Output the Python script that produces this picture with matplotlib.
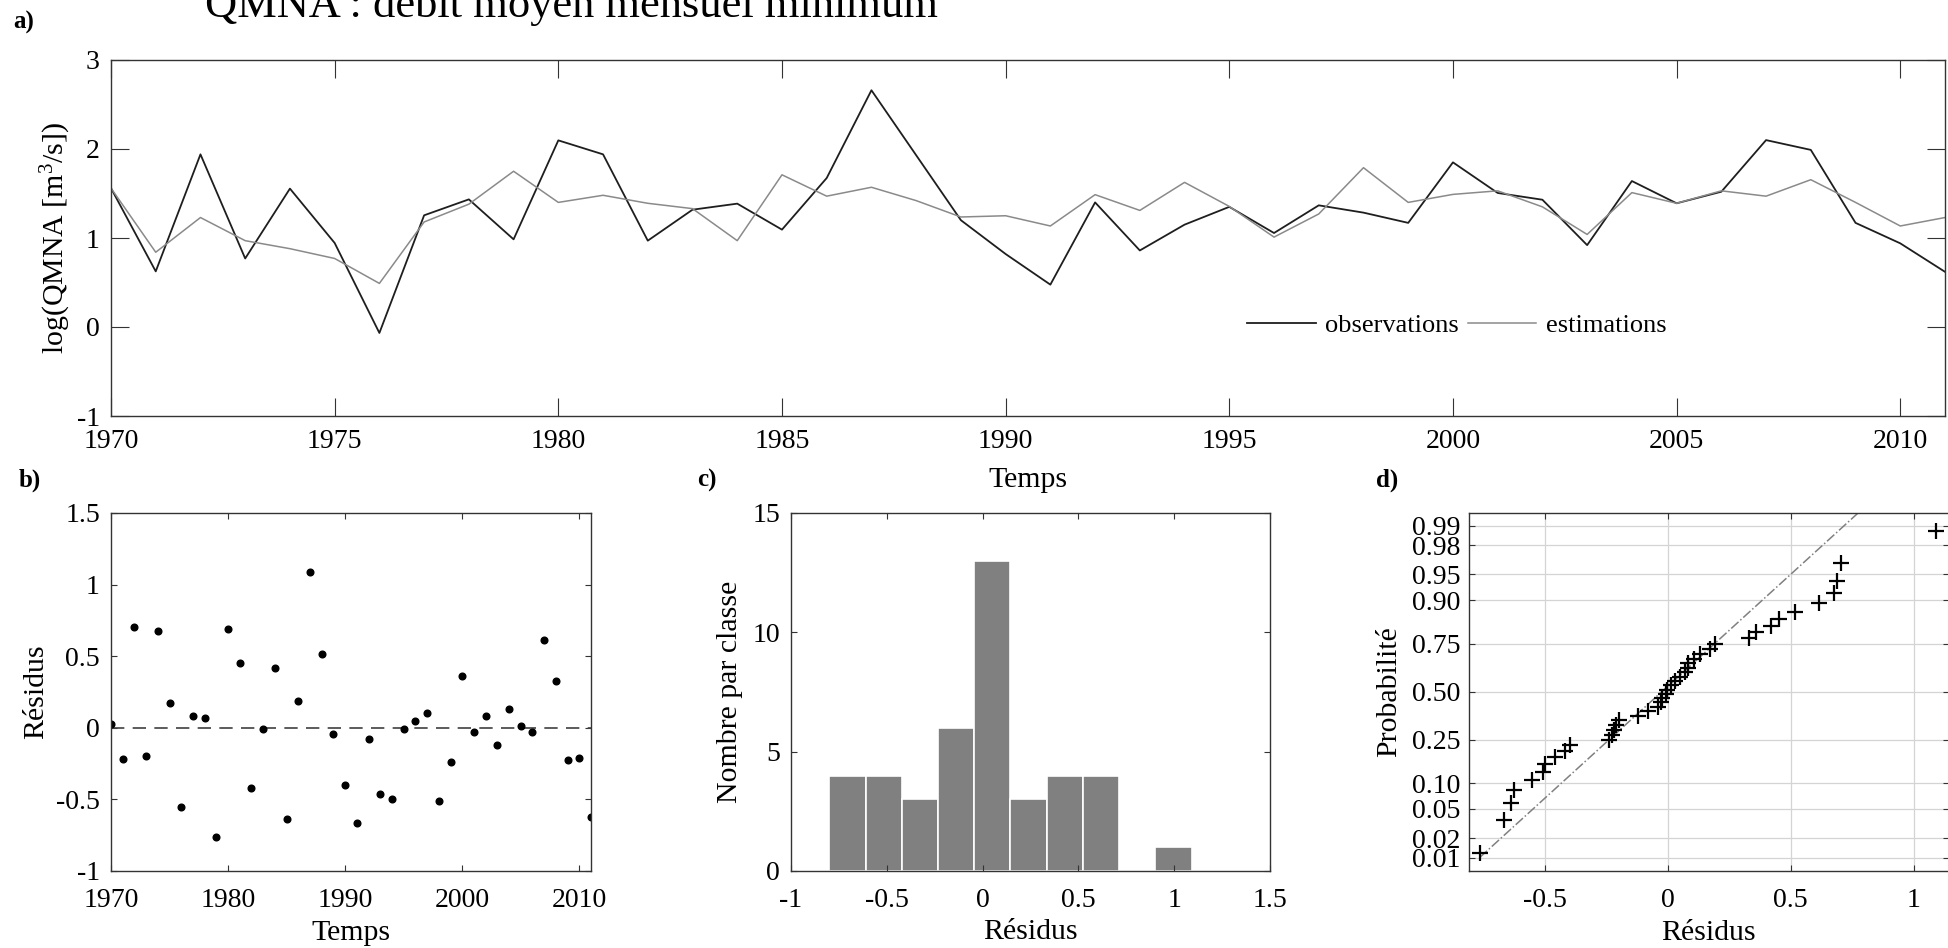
import numpy as np
import matplotlib
matplotlib.use('Agg')
import matplotlib.pyplot as plt
from matplotlib.ticker import FormatStrFormatter
from statistics import NormalDist

plt.rcParams['font.family'] = ['Liberation Serif', 'DejaVu Serif']
plt.rcParams['mathtext.default'] = 'regular'
plt.rcParams['axes.unicode_minus'] = False
plt.rcParams['font.size'] = 20
plt.rcParams['axes.labelsize'] = 21.5

# data
annees = list(range(1970, 2012))
observations = [1.56, 0.625, 1.94, 0.77, 1.555, 0.944, -0.067, 1.255, 1.434, 0.985,
                2.097, 1.94, 0.97, 1.318, 1.386, 1.094, 1.674, 2.66, 1.93, 1.20,
                0.82, 0.476, 1.40, 0.86, 1.15, 1.35, 1.056, 1.367, 1.285, 1.17,
                1.85, 1.506, 1.43, 0.92, 1.64, 1.39, 1.52, 2.10, 1.99, 1.17,
                0.94, 0.62]
estimations = [1.56, 0.84, 1.23, 0.97, 0.88, 0.77, 0.49, 1.18, 1.38, 1.75,
               1.40, 1.48, 1.39, 1.33, 0.97, 1.71, 1.47, 1.57, 1.42, 1.236,
               1.25, 1.135, 1.487, 1.31, 1.625, 1.355, 1.01, 1.27, 1.79, 1.40,
               1.49, 1.53, 1.35, 1.04, 1.51, 1.39, 1.53, 1.47, 1.655, 1.40,
               1.135, 1.23]
residus = [0.03, -0.22, 0.705, -0.20, 0.675, 0.17, -0.555, 0.08, 0.07, -0.766,
           0.69, 0.45, -0.42, -0.007, 0.42, -0.64, 0.19, 1.09, 0.518, -0.04,
           -0.40, -0.666, -0.08, -0.46, -0.50, -0.005, 0.05, 0.105, -0.51, -0.24,
           0.36, -0.03, 0.08, -0.12, 0.13, 0.014, -0.026, 0.615, 0.328, -0.228,
           -0.21, -0.626]
classes = [-0.80, -0.611, -0.422, -0.233, -0.044, 0.145, 0.334, 0.523, 0.712, 0.901, 1.095]
probas = [0.01, 0.02, 0.05, 0.10, 0.25, 0.50, 0.75, 0.90, 0.95, 0.98, 0.99]

W, H = 1948, 948
fig = plt.figure(figsize=(W / 100, H / 100), dpi=100)


def axes_px(l, t, r, b):
    return fig.add_axes([l / W, 1 - b / H, (r - l) / W, (b - t) / H])


def style(ax, ticklen, xpad, ypad):
    ax.tick_params(direction='in', top=True, right=True, length=ticklen, width=0.8,
                   color='#333333', labelsize=20)
    ax.tick_params(axis='x', pad=xpad)
    ax.tick_params(axis='y', pad=ypad)
    for s in ax.spines.values():
        s.set_color('#333333')
        s.set_linewidth(1.0)


def label_px(ax, txt, x, y, which):
    # place axis label centre at figure pixel (x, y)
    bb = ax.get_position()
    fx, fy = x / W, 1 - y / H
    cx = (fx - bb.x0) / bb.width
    cy = (fy - bb.y0) / bb.height
    if which == 'x':
        ax.set_xlabel(txt)
        ax.xaxis.label.set_va('center')
        ax.xaxis.set_label_coords(cx, cy)
    else:
        ax.set_ylabel(txt)
        ax.yaxis.label.set_va('center')
        ax.yaxis.set_label_coords(cx, cy)


fig.text(205 / W, 1 - 17 / H, 'QMNA : débit moyen mensuel minimum', fontsize=32,
         ha='left', va='baseline')
for lab, x, y in [('a)', 24, 22), ('b)', 30, 480), ('c)', 707, 480), ('d)', 1387, 480)]:
    fig.text(x / W, 1 - y / H, lab, fontsize=18, fontweight='bold', ha='center', va='center')

# a) time series
ax1 = axes_px(111, 60, 1945, 416)
ax1.plot(annees, observations, color='#1e1e1e', lw=1.3, label='observations')
ax1.plot(annees, estimations, color='#8a8a8a', lw=1.1, label='estimations')
ax1.set_xlim(1970, 2011)
ax1.set_ylim(-1, 3)
ax1.set_xticks(range(1970, 2011, 5))
ax1.set_yticks([-1, 0, 1, 2, 3])
style(ax1, 13, 9, 8)
label_px(ax1, 'log(QMNA [m$^3$/s])', 56, 238, 'y')
label_px(ax1, 'Temps', 1028, 480, 'x')
ax1.legend(loc='center left', bbox_to_anchor=(0.6194, 0.2556), ncol=2, frameon=False,
           borderpad=0, borderaxespad=0, handlelength=2.6, handletextpad=0.35,
           columnspacing=0.35, fontsize=19)

# b) residuals over time
ax2 = axes_px(111, 513, 591, 871)
ax2.axhline(0, color='#404040', lw=1.2, ls=(0, (8, 5)))
ax2.plot(annees, residus, 'o', color='black', ms=4.8, ls='none')
ax2.set_xlim(1970, 2011)
ax2.set_ylim(-1, 1.5)
ax2.set_xticks(range(1970, 2011, 10))
ax2.set_yticks([-1, -0.5, 0, 0.5, 1, 1.5])
ax2.yaxis.set_major_formatter(FormatStrFormatter('%g'))
style(ax2, 4, 12, 8)
label_px(ax2, 'Résidus', 36, 692, 'y')
label_px(ax2, 'Temps', 351, 933, 'x')

# c) histogram
ax3 = axes_px(791, 513, 1270, 871)
ax3.hist(residus, bins=classes, color='#808080', edgecolor='white', linewidth=1.2)
ax3.set_xlim(-1, 1.5)
ax3.set_ylim(0, 15)
ax3.set_xticks([-1, -0.5, 0, 0.5, 1, 1.5])
ax3.set_yticks([0, 5, 10, 15])
ax3.xaxis.set_major_formatter(FormatStrFormatter('%g'))
style(ax3, 4, 12, 8)
label_px(ax3, 'Nombre par classe', 730, 692, 'y')
label_px(ax3, 'Résidus', 1030, 932, 'x')

# d) normal probability plot
nd = NormalDist()
tri = np.sort(residus)
n = len(tri)
z = [nd.inv_cdf((i - 0.5) / n) for i in range(1, n + 1)]
q1, q3 = np.percentile(tri, [25, 75], method='hazen')
z1, z3 = nd.inv_cdf(0.25), nd.inv_cdf(0.75)
pente = (z3 - z1) / (q3 - q1)
xl = np.array([tri[0], tri[-1]])
ax4 = axes_px(1469, 513, 1949, 871)
ax4.grid(True, color='#d4d4d4', lw=0.9)
ax4.set_axisbelow(True)
ax4.plot(xl, z1 + pente * (xl - q1), color='#808080', lw=1.1, ls='-.')
ax4.plot(tri, z, '+', color='black', ms=12, mew=1.6, ls='none')
ax4.set_xlim(-0.81, 1.144)
ax4.set_ylim(-2.515, 2.506)
ax4.set_xticks([-0.5, 0, 0.5, 1])
ax4.xaxis.set_major_formatter(FormatStrFormatter('%g'))
ax4.set_yticks([nd.inv_cdf(p) for p in probas])
ax4.set_yticklabels(['%.2f' % p for p in probas])
style(ax4, 4, 12, 6)
label_px(ax4, 'Probabilité', 1389, 692, 'y')
label_px(ax4, 'Résidus', 1708, 933, 'x')

fig.savefig('out.png', dpi=100)
